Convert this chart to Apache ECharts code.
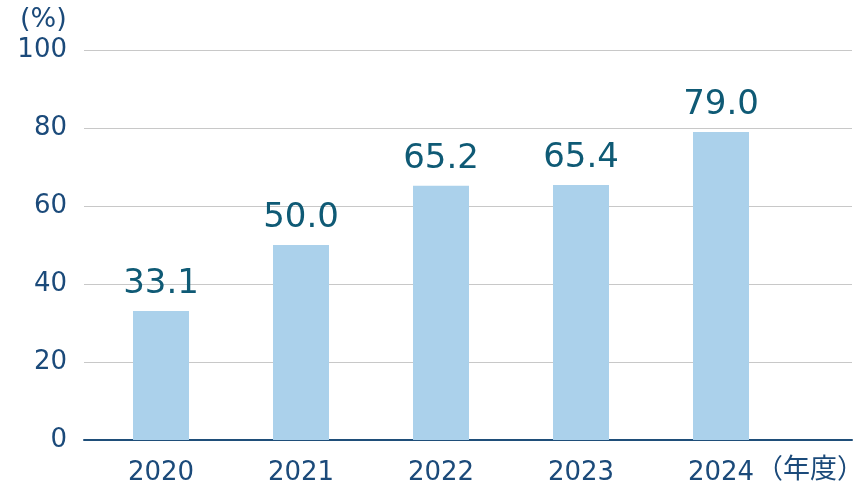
<!DOCTYPE html>
<html><head><meta charset="utf-8">
<script src="https://cdn.jsdelivr.net/npm/echarts@6/dist/echarts.min.js"></script>
<style>html,body{margin:0;padding:0;background:#fff}#c{width:860px;height:494px}</style>
</head><body><div id="c"></div>
<script>
const categories = ['2020', '2021', '2022', '2023', '2024'];
const values = [33.1, 50.0, 65.2, 65.4, 79.0];
const yTicks = [0, 20, 40, 60, 80, 100];
const unitLabel = '(%)';
const yearLabel = '（年度）';

const FONT = "'DejaVu Sans', 'Noto Sans CJK JP', sans-serif";
const CJK = "'Noto Sans CJK JP', sans-serif";
const chart = echarts.init(document.getElementById('c'), null, {renderer: 'canvas'});
chart.setOption({
  animation: false,
  grid: [
    {left: 84, right: 8, top: 50, bottom: 54, outerBoundsMode: 'none', containLabel: false},
    {left: 91, right: 69, top: 50, bottom: 54, outerBoundsMode: 'none', containLabel: false}
  ],
  xAxis: [
    {gridIndex: 0, type: 'value', min: 0, max: 1, show: true,
     axisLine: {show: true, onZero: false, lineStyle: {color: '#1f4e79', width: 2}},
     axisTick: {show: false}, axisLabel: {show: false}, splitLine: {show: false},
     name: yearLabel, nameLocation: 'end', nameGap: 12,
     nameTextStyle: {fontFamily: CJK, fontSize: 27, color: '#1b4a7a', align: 'right', verticalAlign: 'top', padding: [14, 0, 0, 0]}},
    {gridIndex: 1, type: 'category', data: categories,
     axisLine: {show: false}, axisTick: {show: false},
     axisLabel: {fontFamily: FONT, fontSize: 26, color: '#1b4a7a', margin: 20}}
  ],
  yAxis: [
    {gridIndex: 0, type: 'value', min: yTicks[0], max: yTicks[yTicks.length - 1], interval: yTicks[1] - yTicks[0],
     axisLine: {show: false}, axisTick: {show: false},
     axisLabel: {fontFamily: FONT, fontSize: 26, color: '#1b4a7a', margin: 17},
     splitLine: {lineStyle: {color: '#c8c8c8', width: 1}}},
    {gridIndex: 1, type: 'value', min: yTicks[0], max: yTicks[yTicks.length - 1], interval: yTicks[1] - yTicks[0], show: false}
  ],
  graphic: [{type: 'text', left: 20, top: 6, style: {text: unitLabel, font: '27px ' + FONT, fill: '#1b4a7a'}}],
  series: [{
    type: 'bar', xAxisIndex: 1, yAxisIndex: 1, data: values, barWidth: 56,
    itemStyle: {color: '#abd1eb'},
    label: {show: true, position: 'top', distance: 10, fontFamily: FONT, fontSize: 34, color: '#0f5a75',
      formatter: p => p.value.toFixed(1)}
  }]
});
</script></body></html>
